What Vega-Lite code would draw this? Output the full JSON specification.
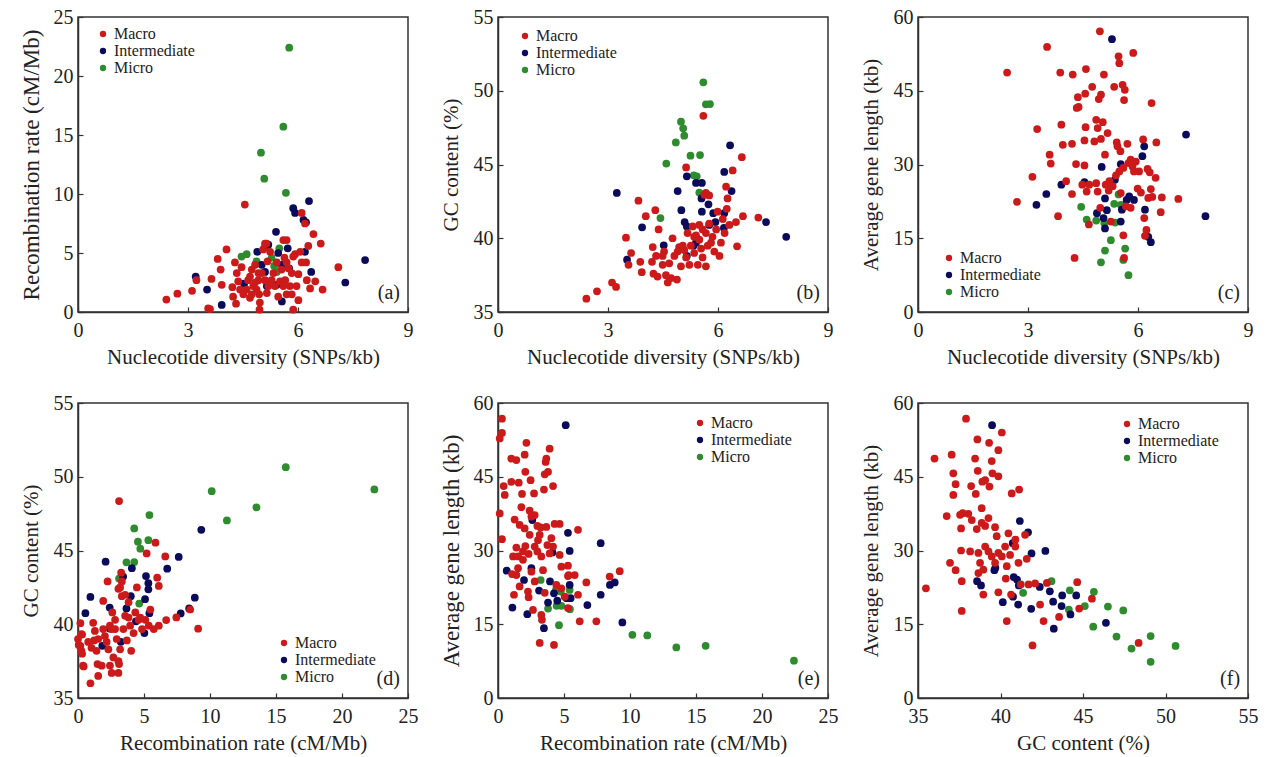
{
"$schema": "https://vega.github.io/schema/vega-lite/v6.json",
"padding": {"left": 19, "top": 6, "right": 5, "bottom": 5},
"background": "white",
"config": {
 "font": "Times New Roman, Liberation Serif, DejaVu Serif, serif",
 "view": {"stroke": "#333", "strokeWidth": 1.5},
 "axis": {"grid": false, "domainColor": "#333", "domainWidth": 1.5, "tickColor": "#333", "tickSize": -5, "tickWidth": 1.2,
   "labelFont": "Times New Roman, Liberation Serif, DejaVu Serif, serif", "labelFontSize": 20, "labelColor": "#222", "labelPadding": 10, "labelFlush": false, "labelOverlap": false,
   "titleFont": "Times New Roman, Liberation Serif, DejaVu Serif, serif", "titleFontSize": 21, "titleFontWeight": "normal", "titleColor": "#222"},
 "axisX": {"titlePadding": 6, "labelPadding": 13},
 "axisY": {"titlePadding": 12},
 "legend": {"orient": "none", "labelFont": "Times New Roman, Liberation Serif, DejaVu Serif, serif", "labelFontSize": 16, "labelColor": "#222", "symbolType": "circle", "symbolSize": 40, "symbolStrokeWidth": 0, "rowPadding": 1, "padding": 0, "labelOffset": 3},
 "text": {"font": "Times New Roman, Liberation Serif, DejaVu Serif, serif"}
},
"datasets": {
"a": [
{"x":5.76,"y":22.4,"g":"Micro"},{"x":5.60,"y":15.7,"g":"Micro"},{"x":4.99,"y":13.5,"g":"Micro"},{"x":5.08,"y":11.3,"g":"Micro"},{"x":5.67,"y":10.1,"g":"Micro"},{"x":4.46,"y":4.7,"g":"Micro"},{"x":4.60,"y":4.9,"g":"Micro"},{"x":4.87,"y":4.3,"g":"Micro"},{"x":5.10,"y":5.5,"g":"Micro"},{"x":5.49,"y":5.4,"g":"Micro"},{"x":5.28,"y":4.6,"g":"Micro"},{"x":5.35,"y":3.9,"g":"Micro"},{"x":5.42,"y":3.4,"g":"Micro"},
{"x":3.21,"y":3.0,"g":"Intermediate"},{"x":3.52,"y":1.9,"g":"Intermediate"},{"x":3.92,"y":0.6,"g":"Intermediate"},{"x":4.53,"y":2.4,"g":"Intermediate"},{"x":4.89,"y":5.1,"g":"Intermediate"},{"x":5.15,"y":2.2,"g":"Intermediate"},{"x":5.19,"y":5.7,"g":"Intermediate"},{"x":5.01,"y":4.0,"g":"Intermediate"},{"x":5.10,"y":3.4,"g":"Intermediate"},{"x":5.40,"y":6.8,"g":"Intermediate"},{"x":5.46,"y":5.0,"g":"Intermediate"},{"x":5.56,"y":4.0,"g":"Intermediate"},{"x":5.42,"y":2.3,"g":"Intermediate"},{"x":5.56,"y":0.9,"g":"Intermediate"},{"x":5.72,"y":5.4,"g":"Intermediate"},{"x":5.76,"y":3.7,"g":"Intermediate"},{"x":5.87,"y":8.8,"g":"Intermediate"},{"x":5.92,"y":8.4,"g":"Intermediate"},{"x":6.15,"y":7.8,"g":"Intermediate"},{"x":6.22,"y":7.6,"g":"Intermediate"},{"x":6.30,"y":9.4,"g":"Intermediate"},{"x":6.19,"y":5.1,"g":"Intermediate"},{"x":6.36,"y":3.4,"g":"Intermediate"},{"x":7.29,"y":2.5,"g":"Intermediate"},{"x":7.83,"y":4.4,"g":"Intermediate"},
{"x":2.41,"y":1.05,"g":"Macro"},{"x":2.71,"y":1.55,"g":"Macro"},{"x":3.11,"y":1.8,"g":"Macro"},{"x":3.23,"y":2.7,"g":"Macro"},{"x":3.55,"y":0.3,"g":"Macro"},{"x":3.60,"y":0.25,"g":"Macro"},{"x":3.64,"y":2.8,"g":"Macro"},{"x":3.81,"y":4.5,"g":"Macro"},{"x":3.89,"y":3.6,"g":"Macro"},{"x":3.92,"y":2.3,"g":"Macro"},{"x":4.05,"y":5.3,"g":"Macro"},{"x":4.21,"y":2.1,"g":"Macro"},{"x":4.23,"y":1.3,"g":"Macro"},{"x":4.28,"y":4.2,"g":"Macro"},{"x":4.31,"y":0.7,"g":"Macro"},{"x":4.33,"y":3.3,"g":"Macro"},{"x":4.42,"y":1.9,"g":"Macro"},{"x":4.46,"y":3.8,"g":"Macro"},{"x":4.51,"y":1.5,"g":"Macro"},{"x":4.55,"y":9.1,"g":"Macro"},{"x":4.64,"y":2.7,"g":"Macro"},{"x":4.69,"y":1.2,"g":"Macro"},{"x":4.74,"y":3.6,"g":"Macro"},{"x":4.78,"y":2.2,"g":"Macro"},{"x":4.83,"y":4.0,"g":"Macro"},{"x":4.92,"y":2.7,"g":"Macro"},{"x":4.94,"y":1.5,"g":"Macro"},{"x":4.96,"y":0.8,"g":"Macro"},{"x":4.95,"y":0.2,"g":"Macro"},{"x":5.01,"y":3.3,"g":"Macro"},{"x":5.10,"y":5.8,"g":"Macro"},{"x":5.17,"y":4.3,"g":"Macro"},{"x":5.19,"y":2.2,"g":"Macro"},{"x":5.24,"y":5.1,"g":"Macro"},{"x":5.33,"y":3.3,"g":"Macro"},{"x":5.46,"y":1.3,"g":"Macro"},{"x":5.51,"y":2.6,"g":"Macro"},{"x":5.60,"y":6.1,"g":"Macro"},{"x":5.69,"y":6.1,"g":"Macro"},{"x":5.63,"y":4.6,"g":"Macro"},{"x":5.74,"y":3.7,"g":"Macro"},{"x":5.78,"y":2.2,"g":"Macro"},{"x":5.83,"y":1.5,"g":"Macro"},{"x":5.87,"y":0.2,"g":"Macro"},{"x":5.92,"y":4.9,"g":"Macro"},{"x":6.01,"y":3.2,"g":"Macro"},{"x":6.01,"y":1.0,"g":"Macro"},{"x":6.10,"y":8.4,"g":"Macro"},{"x":6.19,"y":7.5,"g":"Macro"},{"x":6.22,"y":4.2,"g":"Macro"},{"x":6.24,"y":2.7,"g":"Macro"},{"x":6.28,"y":5.6,"g":"Macro"},{"x":6.33,"y":2.0,"g":"Macro"},{"x":6.42,"y":6.6,"g":"Macro"},{"x":6.47,"y":2.6,"g":"Macro"},{"x":6.62,"y":5.8,"g":"Macro"},{"x":6.67,"y":1.9,"g":"Macro"},{"x":7.10,"y":3.8,"g":"Macro"},{"x":4.37,"y":2.6,"g":"Macro"},{"x":4.60,"y":1.9,"g":"Macro"},{"x":4.69,"y":3.0,"g":"Macro"},{"x":4.74,"y":1.5,"g":"Macro"},{"x":4.83,"y":2.5,"g":"Macro"},{"x":4.87,"y":1.9,"g":"Macro"},{"x":4.92,"y":3.3,"g":"Macro"},{"x":5.10,"y":2.7,"g":"Macro"},{"x":5.15,"y":1.6,"g":"Macro"},{"x":5.28,"y":2.7,"g":"Macro"},{"x":5.37,"y":2.2,"g":"Macro"},{"x":5.42,"y":4.2,"g":"Macro"},{"x":5.55,"y":3.6,"g":"Macro"},{"x":5.60,"y":2.2,"g":"Macro"},{"x":5.65,"y":2.7,"g":"Macro"},{"x":5.69,"y":4.2,"g":"Macro"},{"x":5.83,"y":3.3,"g":"Macro"},{"x":5.87,"y":4.7,"g":"Macro"},{"x":6.06,"y":5.1,"g":"Macro"},{"x":6.10,"y":4.2,"g":"Macro"},{"x":5.69,"y":1.5,"g":"Macro"},{"x":5.96,"y":2.2,"g":"Macro"},{"x":5.05,"y":5.3,"g":"Macro"},{"x":5.14,"y":5.8,"g":"Macro"}
],
"b": [
{"x":5.60,"y":50.57,"g":"Micro"},{"x":5.67,"y":49.08,"g":"Micro"},{"x":5.78,"y":49.10,"g":"Micro"},{"x":4.99,"y":47.9,"g":"Micro"},{"x":5.05,"y":47.45,"g":"Micro"},{"x":5.08,"y":46.95,"g":"Micro"},{"x":4.85,"y":46.5,"g":"Micro"},{"x":4.59,"y":45.06,"g":"Micro"},{"x":5.25,"y":45.6,"g":"Micro"},{"x":5.51,"y":45.64,"g":"Micro"},{"x":5.34,"y":44.27,"g":"Micro"},{"x":5.42,"y":44.2,"g":"Micro"},{"x":5.49,"y":43.1,"g":"Micro"},{"x":4.43,"y":41.37,"g":"Micro"},
{"x":3.24,"y":43.07,"g":"Intermediate"},{"x":3.52,"y":38.55,"g":"Intermediate"},{"x":3.93,"y":40.74,"g":"Intermediate"},{"x":4.52,"y":39.52,"g":"Intermediate"},{"x":4.90,"y":43.2,"g":"Intermediate"},{"x":5.00,"y":41.9,"g":"Intermediate"},{"x":5.09,"y":41.1,"g":"Intermediate"},{"x":5.15,"y":40.8,"g":"Intermediate"},{"x":5.15,"y":44.2,"g":"Intermediate"},{"x":5.15,"y":38.8,"g":"Intermediate"},{"x":5.33,"y":39.5,"g":"Intermediate"},{"x":5.40,"y":39.7,"g":"Intermediate"},{"x":5.40,"y":43.75,"g":"Intermediate"},{"x":5.56,"y":43.75,"g":"Intermediate"},{"x":5.55,"y":42.7,"g":"Intermediate"},{"x":5.56,"y":41.8,"g":"Intermediate"},{"x":5.74,"y":42.3,"g":"Intermediate"},{"x":5.76,"y":40.9,"g":"Intermediate"},{"x":5.87,"y":41.7,"g":"Intermediate"},{"x":5.93,"y":41.1,"g":"Intermediate"},{"x":6.17,"y":44.5,"g":"Intermediate"},{"x":6.17,"y":41.7,"g":"Intermediate"},{"x":6.16,"y":40.7,"g":"Intermediate"},{"x":6.33,"y":46.3,"g":"Intermediate"},{"x":6.37,"y":43.2,"g":"Intermediate"},{"x":7.31,"y":41.1,"g":"Intermediate"},{"x":7.86,"y":40.1,"g":"Intermediate"},
{"x":2.41,"y":35.9,"g":"Macro"},{"x":2.70,"y":36.4,"g":"Macro"},{"x":3.11,"y":37.0,"g":"Macro"},{"x":3.22,"y":36.7,"g":"Macro"},{"x":3.49,"y":40.04,"g":"Macro"},{"x":3.63,"y":39.0,"g":"Macro"},{"x":3.56,"y":38.2,"g":"Macro"},{"x":3.83,"y":42.55,"g":"Macro"},{"x":3.92,"y":37.7,"g":"Macro"},{"x":3.88,"y":38.4,"g":"Macro"},{"x":4.03,"y":41.5,"g":"Macro"},{"x":4.20,"y":38.4,"g":"Macro"},{"x":4.22,"y":39.4,"g":"Macro"},{"x":4.24,"y":37.6,"g":"Macro"},{"x":4.29,"y":41.9,"g":"Macro"},{"x":4.31,"y":38.8,"g":"Macro"},{"x":4.35,"y":37.4,"g":"Macro"},{"x":4.38,"y":40.6,"g":"Macro"},{"x":4.49,"y":38.2,"g":"Macro"},{"x":4.53,"y":39.1,"g":"Macro"},{"x":4.58,"y":37.5,"g":"Macro"},{"x":4.63,"y":37.0,"g":"Macro"},{"x":4.72,"y":37.3,"g":"Macro"},{"x":4.76,"y":40.0,"g":"Macro"},{"x":4.81,"y":38.8,"g":"Macro"},{"x":4.88,"y":37.2,"g":"Macro"},{"x":4.94,"y":39.4,"g":"Macro"},{"x":4.99,"y":38.1,"g":"Macro"},{"x":5.04,"y":39.5,"g":"Macro"},{"x":5.13,"y":44.8,"g":"Macro"},{"x":5.13,"y":38.7,"g":"Macro"},{"x":5.17,"y":40.35,"g":"Macro"},{"x":5.22,"y":38.2,"g":"Macro"},{"x":5.26,"y":39.5,"g":"Macro"},{"x":5.31,"y":40.8,"g":"Macro"},{"x":5.35,"y":39.0,"g":"Macro"},{"x":5.40,"y":40.2,"g":"Macro"},{"x":5.45,"y":38.2,"g":"Macro"},{"x":5.49,"y":39.9,"g":"Macro"},{"x":5.49,"y":40.9,"g":"Macro"},{"x":5.54,"y":39.3,"g":"Macro"},{"x":5.58,"y":38.7,"g":"Macro"},{"x":5.63,"y":42.95,"g":"Macro"},{"x":5.67,"y":40.35,"g":"Macro"},{"x":5.67,"y":38.1,"g":"Macro"},{"x":5.72,"y":39.5,"g":"Macro"},{"x":5.76,"y":41.0,"g":"Macro"},{"x":5.85,"y":40.1,"g":"Macro"},{"x":5.90,"y":39.1,"g":"Macro"},{"x":5.95,"y":40.6,"g":"Macro"},{"x":5.99,"y":41.8,"g":"Macro"},{"x":6.04,"y":38.8,"g":"Macro"},{"x":6.08,"y":39.7,"g":"Macro"},{"x":6.13,"y":41.3,"g":"Macro"},{"x":6.18,"y":40.35,"g":"Macro"},{"x":6.22,"y":43.5,"g":"Macro"},{"x":6.24,"y":42.0,"g":"Macro"},{"x":6.26,"y":42.7,"g":"Macro"},{"x":6.31,"y":40.9,"g":"Macro"},{"x":6.40,"y":44.6,"g":"Macro"},{"x":6.49,"y":41.1,"g":"Macro"},{"x":6.52,"y":39.45,"g":"Macro"},{"x":6.65,"y":45.5,"g":"Macro"},{"x":6.68,"y":41.5,"g":"Macro"},{"x":7.10,"y":41.4,"g":"Macro"},{"x":5.60,"y":48.3,"g":"Macro"},{"x":5.67,"y":43.07,"g":"Macro"},{"x":5.76,"y":42.9,"g":"Macro"},{"x":4.49,"y":38.8,"g":"Macro"},{"x":4.67,"y":38.3,"g":"Macro"},{"x":4.90,"y":39.1,"g":"Macro"},{"x":5.08,"y":39.2,"g":"Macro"},{"x":5.58,"y":40.6,"g":"Macro"},{"x":5.81,"y":39.7,"g":"Macro"},{"x":5.35,"y":40.1,"g":"Macro"}
],
"c": [
{"x":4.45,"y":21.4,"g":"Micro"},{"x":4.60,"y":18.8,"g":"Micro"},{"x":4.86,"y":18.6,"g":"Micro"},{"x":5.08,"y":18.1,"g":"Micro"},{"x":5.38,"y":18.2,"g":"Micro"},{"x":5.47,"y":23.9,"g":"Micro"},{"x":5.35,"y":22.0,"g":"Micro"},{"x":5.53,"y":21.8,"g":"Micro"},{"x":5.26,"y":14.6,"g":"Micro"},{"x":5.10,"y":12.5,"g":"Micro"},{"x":4.99,"y":10.1,"g":"Micro"},{"x":5.65,"y":12.9,"g":"Micro"},{"x":5.60,"y":10.6,"g":"Micro"},{"x":5.74,"y":7.5,"g":"Micro"},
{"x":3.23,"y":21.8,"g":"Intermediate"},{"x":3.50,"y":24.0,"g":"Intermediate"},{"x":3.91,"y":25.9,"g":"Intermediate"},{"x":4.54,"y":26.4,"g":"Intermediate"},{"x":4.88,"y":20.1,"g":"Intermediate"},{"x":5.01,"y":29.5,"g":"Intermediate"},{"x":5.10,"y":23.1,"g":"Intermediate"},{"x":5.10,"y":17.0,"g":"Intermediate"},{"x":5.15,"y":20.7,"g":"Intermediate"},{"x":5.06,"y":19.1,"g":"Intermediate"},{"x":5.37,"y":26.9,"g":"Intermediate"},{"x":5.53,"y":30.1,"g":"Intermediate"},{"x":5.56,"y":20.8,"g":"Intermediate"},{"x":5.53,"y":18.4,"g":"Intermediate"},{"x":5.69,"y":22.8,"g":"Intermediate"},{"x":5.76,"y":23.5,"g":"Intermediate"},{"x":5.89,"y":22.8,"g":"Intermediate"},{"x":6.12,"y":31.7,"g":"Intermediate"},{"x":6.17,"y":33.7,"g":"Intermediate"},{"x":6.19,"y":20.8,"g":"Intermediate"},{"x":6.28,"y":15.3,"g":"Intermediate"},{"x":6.35,"y":14.2,"g":"Intermediate"},{"x":5.29,"y":55.5,"g":"Intermediate"},{"x":7.31,"y":36.1,"g":"Intermediate"},{"x":7.84,"y":19.5,"g":"Intermediate"},
{"x":2.43,"y":48.7,"g":"Macro"},{"x":2.70,"y":22.4,"g":"Macro"},{"x":3.12,"y":27.5,"g":"Macro"},{"x":3.25,"y":37.2,"g":"Macro"},{"x":3.52,"y":53.9,"g":"Macro"},{"x":3.59,"y":32.0,"g":"Macro"},{"x":3.62,"y":30.2,"g":"Macro"},{"x":3.82,"y":19.5,"g":"Macro"},{"x":3.88,"y":48.7,"g":"Macro"},{"x":3.91,"y":38.1,"g":"Macro"},{"x":3.95,"y":34.0,"g":"Macro"},{"x":4.04,"y":26.6,"g":"Macro"},{"x":4.20,"y":34.2,"g":"Macro"},{"x":4.22,"y":48.3,"g":"Macro"},{"x":4.20,"y":24.0,"g":"Macro"},{"x":4.27,"y":11.0,"g":"Macro"},{"x":4.31,"y":30.1,"g":"Macro"},{"x":4.33,"y":41.5,"g":"Macro"},{"x":4.38,"y":41.7,"g":"Macro"},{"x":4.36,"y":43.7,"g":"Macro"},{"x":4.48,"y":25.9,"g":"Macro"},{"x":4.54,"y":34.9,"g":"Macro"},{"x":4.54,"y":29.8,"g":"Macro"},{"x":4.56,"y":44.4,"g":"Macro"},{"x":4.57,"y":37.6,"g":"Macro"},{"x":4.58,"y":49.4,"g":"Macro"},{"x":4.60,"y":24.5,"g":"Macro"},{"x":4.66,"y":17.8,"g":"Macro"},{"x":4.67,"y":25.9,"g":"Macro"},{"x":4.75,"y":45.8,"g":"Macro"},{"x":4.81,"y":34.7,"g":"Macro"},{"x":4.86,"y":26.2,"g":"Macro"},{"x":4.86,"y":39.1,"g":"Macro"},{"x":4.90,"y":37.4,"g":"Macro"},{"x":4.93,"y":43.3,"g":"Macro"},{"x":4.96,"y":57.1,"g":"Macro"},{"x":4.99,"y":44.2,"g":"Macro"},{"x":5.04,"y":38.6,"g":"Macro"},{"x":4.99,"y":35.2,"g":"Macro"},{"x":4.90,"y":24.5,"g":"Macro"},{"x":4.97,"y":21.2,"g":"Macro"},{"x":5.07,"y":48.3,"g":"Macro"},{"x":5.10,"y":32.0,"g":"Macro"},{"x":5.12,"y":25.9,"g":"Macro"},{"x":5.17,"y":36.4,"g":"Macro"},{"x":5.20,"y":24.7,"g":"Macro"},{"x":5.22,"y":26.6,"g":"Macro"},{"x":5.26,"y":18.4,"g":"Macro"},{"x":5.31,"y":25.6,"g":"Macro"},{"x":5.35,"y":45.8,"g":"Macro"},{"x":5.40,"y":27.8,"g":"Macro"},{"x":5.42,"y":34.5,"g":"Macro"},{"x":5.44,"y":33.7,"g":"Macro"},{"x":5.47,"y":52.0,"g":"Macro"},{"x":5.49,"y":50.6,"g":"Macro"},{"x":5.49,"y":28.6,"g":"Macro"},{"x":5.52,"y":32.7,"g":"Macro"},{"x":5.53,"y":24.2,"g":"Macro"},{"x":5.58,"y":46.2,"g":"Macro"},{"x":5.64,"y":45.2,"g":"Macro"},{"x":5.62,"y":43.1,"g":"Macro"},{"x":5.60,"y":29.3,"g":"Macro"},{"x":5.60,"y":15.6,"g":"Macro"},{"x":5.62,"y":11.0,"g":"Macro"},{"x":5.67,"y":21.5,"g":"Macro"},{"x":5.71,"y":34.2,"g":"Macro"},{"x":5.74,"y":30.3,"g":"Macro"},{"x":5.80,"y":31.0,"g":"Macro"},{"x":5.85,"y":29.6,"g":"Macro"},{"x":5.80,"y":21.2,"g":"Macro"},{"x":5.87,"y":52.7,"g":"Macro"},{"x":5.89,"y":28.6,"g":"Macro"},{"x":5.94,"y":30.6,"g":"Macro"},{"x":5.99,"y":25.1,"g":"Macro"},{"x":6.03,"y":28.6,"g":"Macro"},{"x":6.08,"y":24.3,"g":"Macro"},{"x":6.14,"y":35.1,"g":"Macro"},{"x":6.17,"y":19.1,"g":"Macro"},{"x":6.19,"y":15.5,"g":"Macro"},{"x":6.23,"y":16.7,"g":"Macro"},{"x":6.26,"y":29.1,"g":"Macro"},{"x":6.28,"y":23.2,"g":"Macro"},{"x":6.32,"y":28.4,"g":"Macro"},{"x":6.35,"y":25.0,"g":"Macro"},{"x":6.37,"y":42.5,"g":"Macro"},{"x":6.39,"y":23.4,"g":"Macro"},{"x":6.48,"y":27.3,"g":"Macro"},{"x":6.50,"y":34.5,"g":"Macro"},{"x":6.62,"y":20.3,"g":"Macro"},{"x":6.65,"y":23.3,"g":"Macro"},{"x":7.10,"y":23.0,"g":"Macro"}
],
"d": [
{"x":15.74,"y":50.65,"g":"Micro"},{"x":22.45,"y":49.14,"g":"Micro"},{"x":10.13,"y":49.02,"g":"Micro"},{"x":13.52,"y":47.92,"g":"Micro"},{"x":11.28,"y":47.04,"g":"Micro"},{"x":5.41,"y":47.4,"g":"Micro"},{"x":4.26,"y":46.5,"g":"Micro"},{"x":4.54,"y":45.6,"g":"Micro"},{"x":5.33,"y":45.7,"g":"Micro"},{"x":4.72,"y":45.12,"g":"Micro"},{"x":3.67,"y":44.2,"g":"Micro"},{"x":4.26,"y":44.22,"g":"Micro"},{"x":3.11,"y":43.1,"g":"Micro"},{"x":4.64,"y":41.4,"g":"Micro"},
{"x":0.56,"y":40.75,"g":"Intermediate"},{"x":0.94,"y":41.85,"g":"Intermediate"},{"x":2.09,"y":44.24,"g":"Intermediate"},{"x":1.84,"y":38.54,"g":"Intermediate"},{"x":2.40,"y":41.13,"g":"Intermediate"},{"x":2.40,"y":39.71,"g":"Intermediate"},{"x":3.24,"y":38.81,"g":"Intermediate"},{"x":3.42,"y":43.23,"g":"Intermediate"},{"x":3.67,"y":41.07,"g":"Intermediate"},{"x":4.0,"y":41.9,"g":"Intermediate"},{"x":4.08,"y":43.8,"g":"Intermediate"},{"x":4.39,"y":40.2,"g":"Intermediate"},{"x":5.03,"y":39.4,"g":"Intermediate"},{"x":5.15,"y":43.27,"g":"Intermediate"},{"x":5.33,"y":42.78,"g":"Intermediate"},{"x":5.33,"y":42.37,"g":"Intermediate"},{"x":5.08,"y":41.7,"g":"Intermediate"},{"x":5.41,"y":40.75,"g":"Intermediate"},{"x":6.76,"y":43.77,"g":"Intermediate"},{"x":7.63,"y":44.56,"g":"Intermediate"},{"x":7.78,"y":40.73,"g":"Intermediate"},{"x":8.42,"y":41.07,"g":"Intermediate"},{"x":8.85,"y":41.8,"g":"Intermediate"},{"x":9.34,"y":46.4,"g":"Intermediate"},
{"x":3.11,"y":48.35,"g":"Macro"},{"x":5.87,"y":45.53,"g":"Macro"},{"x":5.20,"y":44.8,"g":"Macro"},{"x":6.61,"y":44.6,"g":"Macro"},{"x":6.0,"y":43.16,"g":"Macro"},{"x":6.12,"y":42.6,"g":"Macro"},{"x":6.68,"y":40.28,"g":"Macro"},{"x":7.45,"y":40.46,"g":"Macro"},{"x":8.5,"y":41.0,"g":"Macro"},{"x":9.1,"y":39.7,"g":"Macro"},{"x":0.18,"y":40.07,"g":"Macro"},{"x":0.31,"y":39.3,"g":"Macro"},{"x":0.18,"y":38.54,"g":"Macro"},{"x":0.31,"y":38.0,"g":"Macro"},{"x":0.43,"y":37.14,"g":"Macro"},{"x":0.94,"y":36.0,"g":"Macro"},{"x":0.0,"y":39.0,"g":"Macro"},{"x":0.05,"y":38.6,"g":"Macro"},{"x":0.38,"y":37.19,"g":"Macro"},{"x":0.26,"y":39.33,"g":"Macro"},{"x":0.26,"y":38.2,"g":"Macro"},{"x":1.15,"y":40.1,"g":"Macro"},{"x":1.28,"y":39.55,"g":"Macro"},{"x":1.22,"y":38.9,"g":"Macro"},{"x":1.02,"y":38.4,"g":"Macro"},{"x":1.40,"y":38.2,"g":"Macro"},{"x":1.48,"y":37.3,"g":"Macro"},{"x":1.53,"y":36.5,"g":"Macro"},{"x":1.79,"y":37.19,"g":"Macro"},{"x":1.91,"y":41.58,"g":"Macro"},{"x":2.04,"y":39.2,"g":"Macro"},{"x":2.17,"y":38.8,"g":"Macro"},{"x":2.30,"y":38.3,"g":"Macro"},{"x":2.42,"y":39.9,"g":"Macro"},{"x":2.55,"y":36.7,"g":"Macro"},{"x":2.60,"y":40.8,"g":"Macro"},{"x":2.68,"y":37.75,"g":"Macro"},{"x":2.81,"y":40.3,"g":"Macro"},{"x":2.93,"y":39.0,"g":"Macro"},{"x":3.06,"y":37.5,"g":"Macro"},{"x":3.11,"y":37.3,"g":"Macro"},{"x":3.19,"y":42.5,"g":"Macro"},{"x":3.19,"y":38.3,"g":"Macro"},{"x":3.32,"y":42.9,"g":"Macro"},{"x":3.32,"y":41.9,"g":"Macro"},{"x":3.44,"y":39.67,"g":"Macro"},{"x":3.57,"y":40.57,"g":"Macro"},{"x":3.70,"y":38.9,"g":"Macro"},{"x":3.83,"y":41.5,"g":"Macro"},{"x":3.95,"y":39.9,"g":"Macro"},{"x":4.03,"y":38.2,"g":"Macro"},{"x":4.21,"y":39.4,"g":"Macro"},{"x":4.46,"y":42.5,"g":"Macro"},{"x":4.59,"y":40.3,"g":"Macro"},{"x":4.72,"y":40.45,"g":"Macro"},{"x":4.85,"y":39.67,"g":"Macro"},{"x":5.10,"y":40.3,"g":"Macro"},{"x":5.36,"y":39.9,"g":"Macro"},{"x":5.48,"y":41.0,"g":"Macro"},{"x":5.74,"y":39.67,"g":"Macro"},{"x":6.12,"y":39.9,"g":"Macro"},{"x":2.24,"y":42.9,"g":"Macro"},{"x":3.27,"y":43.5,"g":"Macro"},{"x":3.06,"y":42.4,"g":"Macro"},{"x":3.57,"y":42.0,"g":"Macro"},{"x":2.55,"y":39.67,"g":"Macro"},{"x":2.81,"y":39.67,"g":"Macro"},{"x":1.91,"y":39.67,"g":"Macro"},{"x":3.83,"y":40.45,"g":"Macro"},{"x":4.34,"y":40.8,"g":"Macro"},{"x":1.53,"y":39.0,"g":"Macro"},{"x":0.77,"y":38.8,"g":"Macro"},{"x":2.42,"y":37.2,"g":"Macro"},{"x":3.06,"y":36.7,"g":"Macro"}
],
"e": [
{"x":22.42,"y":7.58,"g":"Micro"},{"x":13.51,"y":10.28,"g":"Micro"},{"x":15.73,"y":10.62,"g":"Micro"},{"x":10.18,"y":12.86,"g":"Micro"},{"x":11.31,"y":12.72,"g":"Micro"},{"x":4.62,"y":14.82,"g":"Micro"},{"x":3.23,"y":24.0,"g":"Micro"},{"x":3.79,"y":18.2,"g":"Micro"},{"x":4.44,"y":18.74,"g":"Micro"},{"x":4.39,"y":21.99,"g":"Micro"},{"x":4.75,"y":21.65,"g":"Micro"},{"x":5.43,"y":21.99,"g":"Micro"},{"x":5.45,"y":18.06,"g":"Micro"},{"x":4.80,"y":18.74,"g":"Micro"},
{"x":5.13,"y":55.5,"g":"Intermediate"},{"x":0.66,"y":25.9,"g":"Intermediate"},{"x":1.09,"y":18.4,"g":"Intermediate"},{"x":1.97,"y":24.0,"g":"Intermediate"},{"x":2.53,"y":26.4,"g":"Intermediate"},{"x":2.60,"y":36.2,"g":"Intermediate"},{"x":2.22,"y":17.05,"g":"Intermediate"},{"x":3.11,"y":21.85,"g":"Intermediate"},{"x":3.48,"y":14.2,"g":"Intermediate"},{"x":3.94,"y":23.7,"g":"Intermediate"},{"x":3.79,"y":19.4,"g":"Intermediate"},{"x":4.12,"y":29.6,"g":"Intermediate"},{"x":4.24,"y":21.3,"g":"Intermediate"},{"x":4.49,"y":19.8,"g":"Intermediate"},{"x":5.20,"y":20.3,"g":"Intermediate"},{"x":5.30,"y":33.6,"g":"Intermediate"},{"x":5.43,"y":29.9,"g":"Intermediate"},{"x":5.43,"y":23.0,"g":"Intermediate"},{"x":5.50,"y":20.3,"g":"Intermediate"},{"x":6.77,"y":18.9,"g":"Intermediate"},{"x":7.78,"y":21.0,"g":"Intermediate"},{"x":7.78,"y":31.5,"g":"Intermediate"},{"x":8.48,"y":23.0,"g":"Intermediate"},{"x":8.84,"y":23.5,"g":"Intermediate"},{"x":9.42,"y":15.36,"g":"Intermediate"},
{"x":0.30,"y":56.8,"g":"Macro"},{"x":0.30,"y":53.9,"g":"Macro"},{"x":0.13,"y":52.8,"g":"Macro"},{"x":0.13,"y":37.55,"g":"Macro"},{"x":0.30,"y":32.3,"g":"Macro"},{"x":0.43,"y":43.1,"g":"Macro"},{"x":0.51,"y":41.3,"g":"Macro"},{"x":1.01,"y":48.7,"g":"Macro"},{"x":1.39,"y":48.4,"g":"Macro"},{"x":2.15,"y":51.9,"g":"Macro"},{"x":2.02,"y":49.5,"g":"Macro"},{"x":1.01,"y":43.97,"g":"Macro"},{"x":1.57,"y":43.8,"g":"Macro"},{"x":2.07,"y":46.0,"g":"Macro"},{"x":2.47,"y":44.3,"g":"Macro"},{"x":1.82,"y":41.5,"g":"Macro"},{"x":2.73,"y":41.6,"g":"Macro"},{"x":3.91,"y":50.7,"g":"Macro"},{"x":3.66,"y":48.7,"g":"Macro"},{"x":3.61,"y":48.0,"g":"Macro"},{"x":3.79,"y":46.0,"g":"Macro"},{"x":3.54,"y":45.5,"g":"Macro"},{"x":3.48,"y":42.4,"g":"Macro"},{"x":4.17,"y":43.1,"g":"Macro"},{"x":1.77,"y":38.8,"g":"Macro"},{"x":2.40,"y":38.1,"g":"Macro"},{"x":2.78,"y":37.2,"g":"Macro"},{"x":1.26,"y":36.3,"g":"Macro"},{"x":1.64,"y":35.2,"g":"Macro"},{"x":2.02,"y":34.5,"g":"Macro"},{"x":2.53,"y":36.9,"g":"Macro"},{"x":2.98,"y":35.0,"g":"Macro"},{"x":3.23,"y":34.7,"g":"Macro"},{"x":3.66,"y":34.8,"g":"Macro"},{"x":4.29,"y":35.4,"g":"Macro"},{"x":4.67,"y":35.4,"g":"Macro"},{"x":6.06,"y":34.2,"g":"Macro"},{"x":1.39,"y":30.6,"g":"Macro"},{"x":2.07,"y":30.9,"g":"Macro"},{"x":2.78,"y":30.8,"g":"Macro"},{"x":2.40,"y":33.2,"g":"Macro"},{"x":2.98,"y":29.8,"g":"Macro"},{"x":3.16,"y":33.2,"g":"Macro"},{"x":3.74,"y":31.1,"g":"Macro"},{"x":1.14,"y":28.8,"g":"Macro"},{"x":1.52,"y":28.8,"g":"Macro"},{"x":1.89,"y":28.1,"g":"Macro"},{"x":2.32,"y":29.3,"g":"Macro"},{"x":3.28,"y":28.8,"g":"Macro"},{"x":3.91,"y":29.4,"g":"Macro"},{"x":4.67,"y":29.1,"g":"Macro"},{"x":4.80,"y":26.7,"g":"Macro"},{"x":5.30,"y":26.9,"g":"Macro"},{"x":5.30,"y":24.8,"g":"Macro"},{"x":5.81,"y":25.0,"g":"Macro"},{"x":5.35,"y":25.0,"g":"Macro"},{"x":1.06,"y":25.2,"g":"Macro"},{"x":1.39,"y":25.0,"g":"Macro"},{"x":1.64,"y":22.7,"g":"Macro"},{"x":1.21,"y":21.0,"g":"Macro"},{"x":2.27,"y":21.65,"g":"Macro"},{"x":2.32,"y":20.5,"g":"Macro"},{"x":2.65,"y":17.9,"g":"Macro"},{"x":2.78,"y":23.7,"g":"Macro"},{"x":3.41,"y":26.0,"g":"Macro"},{"x":3.54,"y":21.4,"g":"Macro"},{"x":3.28,"y":16.9,"g":"Macro"},{"x":3.33,"y":15.9,"g":"Macro"},{"x":3.16,"y":11.2,"g":"Macro"},{"x":4.24,"y":10.8,"g":"Macro"},{"x":4.42,"y":23.0,"g":"Macro"},{"x":4.80,"y":22.3,"g":"Macro"},{"x":5.05,"y":20.6,"g":"Macro"},{"x":5.30,"y":18.3,"g":"Macro"},{"x":6.06,"y":21.0,"g":"Macro"},{"x":6.19,"y":15.6,"g":"Macro"},{"x":6.69,"y":23.5,"g":"Macro"},{"x":7.45,"y":15.6,"g":"Macro"},{"x":8.46,"y":24.7,"g":"Macro"},{"x":9.22,"y":25.8,"g":"Macro"},{"x":1.52,"y":26.4,"g":"Macro"},{"x":2.53,"y":25.7,"g":"Macro"},{"x":3.03,"y":32.1,"g":"Macro"},{"x":4.17,"y":30.8,"g":"Macro"},{"x":4.04,"y":32.5,"g":"Macro"},{"x":1.89,"y":29.8,"g":"Macro"}
],
"f": [
{"x":50.61,"y":10.6,"g":"Micro"},{"x":49.10,"y":7.36,"g":"Micro"},{"x":49.10,"y":12.6,"g":"Micro"},{"x":47.94,"y":10.05,"g":"Micro"},{"x":47.03,"y":12.5,"g":"Micro"},{"x":47.44,"y":17.8,"g":"Micro"},{"x":46.51,"y":18.6,"g":"Micro"},{"x":45.62,"y":14.5,"g":"Micro"},{"x":45.66,"y":21.6,"g":"Micro"},{"x":45.11,"y":18.7,"g":"Micro"},{"x":44.20,"y":21.9,"g":"Micro"},{"x":44.14,"y":18.0,"g":"Micro"},{"x":43.09,"y":23.75,"g":"Micro"},{"x":41.37,"y":21.4,"g":"Micro"},
{"x":39.49,"y":55.5,"g":"Intermediate"},{"x":41.17,"y":36.0,"g":"Intermediate"},{"x":41.67,"y":33.7,"g":"Intermediate"},{"x":40.74,"y":31.5,"g":"Intermediate"},{"x":42.72,"y":29.9,"g":"Intermediate"},{"x":41.88,"y":29.4,"g":"Intermediate"},{"x":39.69,"y":26.5,"g":"Intermediate"},{"x":39.63,"y":26.0,"g":"Intermediate"},{"x":38.58,"y":23.75,"g":"Intermediate"},{"x":38.82,"y":22.9,"g":"Intermediate"},{"x":41.00,"y":24.1,"g":"Intermediate"},{"x":41.11,"y":22.9,"g":"Intermediate"},{"x":40.80,"y":24.6,"g":"Intermediate"},{"x":40.14,"y":19.5,"g":"Intermediate"},{"x":40.76,"y":20.6,"g":"Intermediate"},{"x":41.07,"y":19.0,"g":"Intermediate"},{"x":41.86,"y":18.15,"g":"Intermediate"},{"x":42.38,"y":22.6,"g":"Intermediate"},{"x":42.99,"y":21.7,"g":"Intermediate"},{"x":43.19,"y":19.6,"g":"Intermediate"},{"x":43.23,"y":14.1,"g":"Intermediate"},{"x":43.74,"y":20.85,"g":"Intermediate"},{"x":43.70,"y":18.7,"g":"Intermediate"},{"x":44.24,"y":17.0,"g":"Intermediate"},{"x":44.59,"y":20.85,"g":"Intermediate"},{"x":46.39,"y":15.3,"g":"Intermediate"},
{"x":37.91,"y":56.8,"g":"Macro"},{"x":40.08,"y":54.0,"g":"Macro"},{"x":38.6,"y":52.6,"g":"Macro"},{"x":39.31,"y":51.9,"g":"Macro"},{"x":39.87,"y":50.4,"g":"Macro"},{"x":36.0,"y":48.7,"g":"Macro"},{"x":37.04,"y":49.5,"g":"Macro"},{"x":38.46,"y":48.7,"g":"Macro"},{"x":39.47,"y":48.2,"g":"Macro"},{"x":38.62,"y":46.2,"g":"Macro"},{"x":37.14,"y":45.7,"g":"Macro"},{"x":39.51,"y":45.7,"g":"Macro"},{"x":39.87,"y":45.1,"g":"Macro"},{"x":37.28,"y":43.5,"g":"Macro"},{"x":38.22,"y":43.1,"g":"Macro"},{"x":38.9,"y":44.0,"g":"Macro"},{"x":39.07,"y":44.3,"g":"Macro"},{"x":39.33,"y":43.0,"g":"Macro"},{"x":37.14,"y":41.3,"g":"Macro"},{"x":38.5,"y":41.5,"g":"Macro"},{"x":40.68,"y":41.6,"g":"Macro"},{"x":41.13,"y":42.4,"g":"Macro"},{"x":36.74,"y":37.0,"g":"Macro"},{"x":37.55,"y":37.25,"g":"Macro"},{"x":37.71,"y":37.6,"g":"Macro"},{"x":38.05,"y":37.45,"g":"Macro"},{"x":37.61,"y":34.5,"g":"Macro"},{"x":38.26,"y":36.2,"g":"Macro"},{"x":38.56,"y":34.35,"g":"Macro"},{"x":38.86,"y":38.6,"g":"Macro"},{"x":38.86,"y":35.6,"g":"Macro"},{"x":39.07,"y":35.0,"g":"Macro"},{"x":39.27,"y":36.6,"g":"Macro"},{"x":39.67,"y":34.75,"g":"Macro"},{"x":39.77,"y":32.9,"g":"Macro"},{"x":40.48,"y":33.5,"g":"Macro"},{"x":40.9,"y":32.2,"g":"Macro"},{"x":37.61,"y":30.0,"g":"Macro"},{"x":36.94,"y":27.5,"g":"Macro"},{"x":37.28,"y":26.0,"g":"Macro"},{"x":37.65,"y":23.75,"g":"Macro"},{"x":35.48,"y":22.3,"g":"Macro"},{"x":38.16,"y":29.8,"g":"Macro"},{"x":38.66,"y":29.5,"g":"Macro"},{"x":38.76,"y":27.5,"g":"Macro"},{"x":39.07,"y":30.8,"g":"Macro"},{"x":39.27,"y":29.8,"g":"Macro"},{"x":39.47,"y":28.8,"g":"Macro"},{"x":38.66,"y":25.4,"g":"Macro"},{"x":38.96,"y":26.1,"g":"Macro"},{"x":39.67,"y":27.5,"g":"Macro"},{"x":39.87,"y":29.5,"g":"Macro"},{"x":40.08,"y":28.8,"g":"Macro"},{"x":40.38,"y":26.8,"g":"Macro"},{"x":40.28,"y":30.8,"g":"Macro"},{"x":40.58,"y":29.1,"g":"Macro"},{"x":40.9,"y":30.8,"g":"Macro"},{"x":41.09,"y":27.5,"g":"Macro"},{"x":41.59,"y":28.3,"g":"Macro"},{"x":40.32,"y":24.3,"g":"Macro"},{"x":38.96,"y":21.05,"g":"Macro"},{"x":39.87,"y":21.5,"g":"Macro"},{"x":40.64,"y":21.05,"g":"Macro"},{"x":41.23,"y":23.1,"g":"Macro"},{"x":41.7,"y":23.1,"g":"Macro"},{"x":42.10,"y":23.3,"g":"Macro"},{"x":42.81,"y":23.4,"g":"Macro"},{"x":42.4,"y":19.0,"g":"Macro"},{"x":42.61,"y":15.65,"g":"Macro"},{"x":40.38,"y":15.65,"g":"Macro"},{"x":37.65,"y":17.7,"g":"Macro"},{"x":41.94,"y":10.7,"g":"Macro"},{"x":43.55,"y":16.5,"g":"Macro"},{"x":44.65,"y":23.55,"g":"Macro"},{"x":44.77,"y":18.2,"g":"Macro"},{"x":45.54,"y":20.2,"g":"Macro"},{"x":48.37,"y":11.2,"g":"Macro"},{"x":41.49,"y":33.2,"g":"Macro"}
]
},
"columns": 3,
"spacing": {"row": 91, "column": 90},
"bounds": "flush",
"resolve": {"scale": {"color": "independent"}, "legend": {"color": "independent"}},
"concat": [
{"width": 330, "height": 295, "layer": [
 {"data": {"name": "a"}, "mark": {"type": "circle", "size": 60, "opacity": 1},
  "encoding": {
   "x": {"field": "x", "type": "quantitative", "scale": {"domain": [0, 9], "nice": false}, "axis": {"values": [0, 3, 6, 9], "title": "Nuclecotide diversity (SNPs/kb)"}},
   "y": {"field": "y", "type": "quantitative", "scale": {"domain": [0, 25], "nice": false}, "axis": {"values": [0, 5, 10, 15, 20, 25], "title": "Recombination rate (cM/Mb)", "titleFontSize": 23, "titlePadding": 10}},
   "color": {"field": "g", "type": "nominal", "scale": {"domain": ["Macro", "Intermediate", "Micro"], "range": ["#cc1a1a", "#0b0b5c", "#2e8b2e"]}, "legend": {"title": null, "legendX": 17, "legendY": 9}}}},
 {"data": {"values": [{"label": "(a)"}]}, "mark": {"type": "text", "align": "right", "baseline": "bottom", "fontSize": 20, "color": "#222"},
  "encoding": {"x": {"datum": 8.78}, "y": {"datum": 0.76}, "text": {"field": "label"}}}
]},
{"width": 330, "height": 295, "layer": [
 {"data": {"name": "b"}, "mark": {"type": "circle", "size": 60, "opacity": 1},
  "encoding": {
   "x": {"field": "x", "type": "quantitative", "scale": {"domain": [0, 9], "nice": false}, "axis": {"values": [0, 3, 6, 9], "title": "Nuclecotide diversity (SNPs/kb)"}},
   "y": {"field": "y", "type": "quantitative", "scale": {"domain": [35, 55], "nice": false, "zero": false}, "axis": {"values": [35, 40, 45, 50, 55], "title": "GC content (%)"}},
   "color": {"field": "g", "type": "nominal", "scale": {"domain": ["Macro", "Intermediate", "Micro"], "range": ["#cc1a1a", "#0b0b5c", "#2e8b2e"]}, "legend": {"title": null, "legendX": 19, "legendY": 11}}}},
 {"data": {"values": [{"label": "(b)"}]}, "mark": {"type": "text", "align": "right", "baseline": "bottom", "fontSize": 20, "color": "#222"},
  "encoding": {"x": {"datum": 8.78}, "y": {"datum": 35.61}, "text": {"field": "label"}}}
]},
{"width": 330, "height": 295, "layer": [
 {"data": {"name": "c"}, "mark": {"type": "circle", "size": 60, "opacity": 1},
  "encoding": {
   "x": {"field": "x", "type": "quantitative", "scale": {"domain": [0, 9], "nice": false}, "axis": {"values": [0, 3, 6, 9], "title": "Nuclecotide diversity (SNPs/kb)"}},
   "y": {"field": "y", "type": "quantitative", "scale": {"domain": [0, 60], "nice": false}, "axis": {"values": [0, 15, 30, 45, 60], "title": "Average gene length (kb)"}},
   "color": {"field": "g", "type": "nominal", "scale": {"domain": ["Macro", "Intermediate", "Micro"], "range": ["#cc1a1a", "#0b0b5c", "#2e8b2e"]}, "legend": {"title": null, "legendX": 23, "legendY": 233}}}},
 {"data": {"values": [{"label": "(c)"}]}, "mark": {"type": "text", "align": "right", "baseline": "bottom", "fontSize": 20, "color": "#222"},
  "encoding": {"x": {"datum": 8.78}, "y": {"datum": 1.83}, "text": {"field": "label"}}}
]},
{"width": 330, "height": 295, "layer": [
 {"data": {"name": "d"}, "mark": {"type": "circle", "size": 60, "opacity": 1},
  "encoding": {
   "x": {"field": "x", "type": "quantitative", "scale": {"domain": [0, 25], "nice": false}, "axis": {"values": [0, 5, 10, 15, 20, 25], "title": "Recombination rate (cM/Mb)"}},
   "y": {"field": "y", "type": "quantitative", "scale": {"domain": [35, 55], "nice": false, "zero": false}, "axis": {"values": [35, 40, 45, 50, 55], "title": "GC content (%)"}},
   "color": {"field": "g", "type": "nominal", "scale": {"domain": ["Macro", "Intermediate", "Micro"], "range": ["#cc1a1a", "#0b0b5c", "#2e8b2e"]}, "legend": {"title": null, "legendX": 198, "legendY": 232}}}},
 {"data": {"values": [{"label": "(d)"}]}, "mark": {"type": "text", "align": "right", "baseline": "bottom", "fontSize": 20, "color": "#222"},
  "encoding": {"x": {"datum": 24.39}, "y": {"datum": 35.61}, "text": {"field": "label"}}}
]},
{"width": 330, "height": 295, "layer": [
 {"data": {"name": "e"}, "mark": {"type": "circle", "size": 60, "opacity": 1},
  "encoding": {
   "x": {"field": "x", "type": "quantitative", "scale": {"domain": [0, 25], "nice": false}, "axis": {"values": [0, 5, 10, 15, 20, 25], "title": "Recombination rate (cM/Mb)"}},
   "y": {"field": "y", "type": "quantitative", "scale": {"domain": [0, 60], "nice": false}, "axis": {"values": [0, 15, 30, 45, 60], "title": "Average gene length (kb)", "titleFontSize": 23, "titlePadding": 10}},
   "color": {"field": "g", "type": "nominal", "scale": {"domain": ["Macro", "Intermediate", "Micro"], "range": ["#cc1a1a", "#0b0b5c", "#2e8b2e"]}, "legend": {"title": null, "legendX": 194, "legendY": 12}}}},
 {"data": {"values": [{"label": "(e)"}]}, "mark": {"type": "text", "align": "right", "baseline": "bottom", "fontSize": 20, "color": "#222"},
  "encoding": {"x": {"datum": 24.39}, "y": {"datum": 1.83}, "text": {"field": "label"}}}
]},
{"width": 330, "height": 295, "layer": [
 {"data": {"name": "f"}, "mark": {"type": "circle", "size": 60, "opacity": 1},
  "encoding": {
   "x": {"field": "x", "type": "quantitative", "scale": {"domain": [35, 55], "nice": false, "zero": false}, "axis": {"values": [35, 40, 45, 50, 55], "title": "GC content (%)"}},
   "y": {"field": "y", "type": "quantitative", "scale": {"domain": [0, 60], "nice": false}, "axis": {"values": [0, 15, 30, 45, 60], "title": "Average gene length (kb)"}},
   "color": {"field": "g", "type": "nominal", "scale": {"domain": ["Macro", "Intermediate", "Micro"], "range": ["#cc1a1a", "#0b0b5c", "#2e8b2e"]}, "legend": {"title": null, "legendX": 201, "legendY": 13}}}},
 {"data": {"values": [{"label": "(f)"}]}, "mark": {"type": "text", "align": "right", "baseline": "bottom", "fontSize": 20, "color": "#222"},
  "encoding": {"x": {"datum": 54.52}, "y": {"datum": 1.83}, "text": {"field": "label"}}}
]}
]
}
